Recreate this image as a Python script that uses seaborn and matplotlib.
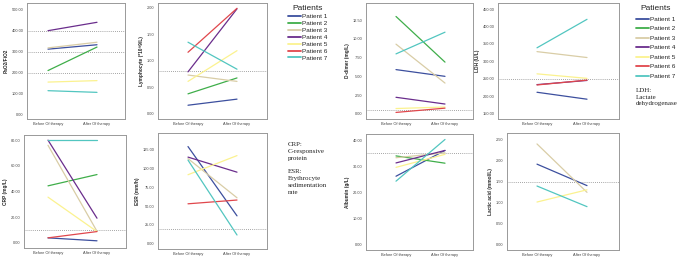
import numpy as np
import pandas as pd
import matplotlib
matplotlib.use("Agg")
import matplotlib.pyplot as plt
from matplotlib.lines import Line2D
import seaborn as sns

sns.set_style("white")
plt.rcParams['font.family'] = ['Liberation Sans', 'DejaVu Sans']

nan = np.nan
patients = ["Patient 1", "Patient 2", "Patient 3", "Patient 4", "Patient 5", "Patient 6", "Patient 7"]
timepoints = ["Before Of therapy", "After Of therapy"]
colors = ["#3c4f9e", "#3fae4a", "#d9cda6", "#6a2d8c", "#fbf28f", "#e0474c", "#52c6c0"]

pf_before = [312, 210, 318, 400, 155, nan, 114]
pf_after = [333, 322, 345, 440, 162, nan, 106]
lym_before = [0.16, 0.375, 0.73, 0.79, 0.61, 1.16, 1.35]
lym_after = [0.275, 0.675, 0.61, 1.98, 1.19, 1.99, 0.84]
crp_before = [3.9, 44.4, 76, 80, 35.6, 3.9, 80]
crp_after = [1.6, 53.2, 9, 19.2, 8.8, 8.8, 80]
esr_before = [129, nan, 113, 115, 91.6, 53, 111]
esr_after = [37, nan, 61, 95, 117, 58, 11.6]
dd_before = [5.9, 13.0, 9.3, 2.2, 0.7, 0.18, 8.0]
dd_after = [5.0, 6.9, 4.1, 1.3, 0.9, 0.75, 10.9]
ldh_before = [211, nan, 328, 233, 264, 232, 339]
ldh_after = [191, nan, 311, 245, 251, 246, 421]
alb_before = [26.2, 34.0, 33.3, 31.3, 29.6, nan, 24.3]
alb_after = [36.1, 31.2, 35.2, 36.1, 34.6, nan, 40.3]
lac_before = [1.92, nan, 2.4, nan, 1.02, nan, 1.40]
lac_after = [1.41, nan, 1.25, nan, 1.31, nan, 0.91]

pal = dict(zip(patients, colors))

W, H = 680, 259
fig = plt.figure(figsize=(6.8, 2.59), dpi=100)

def rect(x0, y0, x1, y1):
    return [x0 / W, 1 - y1 / H, (x1 - x0) / W, (y1 - y0) / H]

panels = [
    (pf_before, pf_after, "PaO2/FiO2", (27, 3, 125, 119), (-21, 532), np.arange(0, 501, 100), [200, 300, 400], (48, 97)),
    (lym_before, lym_after, "Lymphocyte (*10^9/L)", (158, 3, 267, 119), (-0.1, 2.09), np.arange(0, 2.01, 0.5), [0.8], (188, 237)),
    (crp_before, crp_after, "CRP (mg/L)", (24, 135, 126, 248), (-4, 84), np.arange(0, 81, 20), [10], (48, 97)),
    (esr_before, esr_after, "ESR (mm/h)", (158, 133, 267, 249), (-7, 147), np.arange(0, 126, 25), [20], (188, 237)),
    (dd_before, dd_after, "D-dimer (mg/L)", (366, 3, 473, 119), (-0.7, 14.8), np.arange(0, 12.6, 2.5), [0.55], (396, 445)),
    (ldh_before, ldh_after, "LDH (U/L)", (498, 3, 619, 119), (134, 468), np.arange(150, 451, 50), [250], (537, 587)),
    (alb_before, alb_after, "Albumin (g/L)", (366, 134, 473, 250), (-2.1, 42.4), np.arange(0, 41, 10), [35], (396, 445)),
    (lac_before, lac_after, "Lactic acid (mmol/L)", (507, 133, 619, 250), (-0.12, 2.66), np.arange(0, 2.51, 0.5), [1.5], (537, 587)),
]

for before, after, ylabel, box, ylim, yticks, refs, xpix in panels:
    ax = fig.add_axes(rect(*box))
    df = pd.DataFrame({
        "patient": patients * 2,
        "time": [timepoints[0]] * 7 + [timepoints[1]] * 7,
        "value": list(before) + list(after),
    }).dropna()
    for r in refs:
        ax.axhline(r, color="#888888", linestyle=(0, (1, 1.5)), linewidth=0.6, zorder=0)
    sns.lineplot(data=df, x="time", y="value", hue="patient", hue_order=patients,
                 palette=pal, ax=ax, legend=False, linewidth=0.9, errorbar=None,
                 sort=False)
    unit = xpix[1] - xpix[0]
    ax.set_xlim(-(xpix[0] - box[0]) / unit, 1 + (box[2] - xpix[1]) / unit)
    ax.set_ylim(*ylim)
    ax.set_yticks(yticks)
    ax.set_yticklabels([f"{v:.2f}" for v in yticks])
    ax.set_xticks([0, 1])
    ax.set_xticklabels(timepoints)
    ax.set_xlabel("")
    ax.set_ylabel(ylabel, fontsize=3.4, fontweight="bold", labelpad=2)
    ax.tick_params(axis="both", labelsize=2.8, length=1.5, width=0.4, pad=1, colors="#444444")
    for s in ax.spines.values():
        s.set_color("#999999")
        s.set_linewidth(0.7)

handles = [Line2D([0], [0], color=c, linewidth=1.3) for c in colors]

leg1 = fig.legend(handles, patients, loc="upper left", bbox_to_anchor=(284 / W, 1 - 1 / H),
                  frameon=False, fontsize=4.6, title="Patients", title_fontsize=6.0,
                  handlelength=1.9, handletextpad=0.2, labelspacing=0.22, borderpad=0.2)
leg2 = fig.legend(handles, patients, loc="upper left", bbox_to_anchor=(632 / W, 1 - 1 / H),
                  frameon=False, fontsize=4.6, title="Patients", title_fontsize=6.0,
                  handlelength=1.9, handletextpad=0.2, labelspacing=0.63, borderpad=0.2)

fig.text(288 / W, 1 - 142 / H, "CRP:\nC-responsive\nprotein\n\nESR:\nErythrocyte\nsedimentation\nrate",
         family=["Liberation Serif", "DejaVu Serif"], fontsize=5.0, va="top", ha="left",
         linespacing=1.45, color="#222222")
fig.text(636 / W, 1 - 88 / H, "LDH:\nLactate\ndehydrogenase",
         family=["Liberation Serif", "DejaVu Serif"], fontsize=5.0, va="top", ha="left",
         linespacing=1.4, color="#222222")

fig.savefig("out.png", dpi=100, facecolor="white")
